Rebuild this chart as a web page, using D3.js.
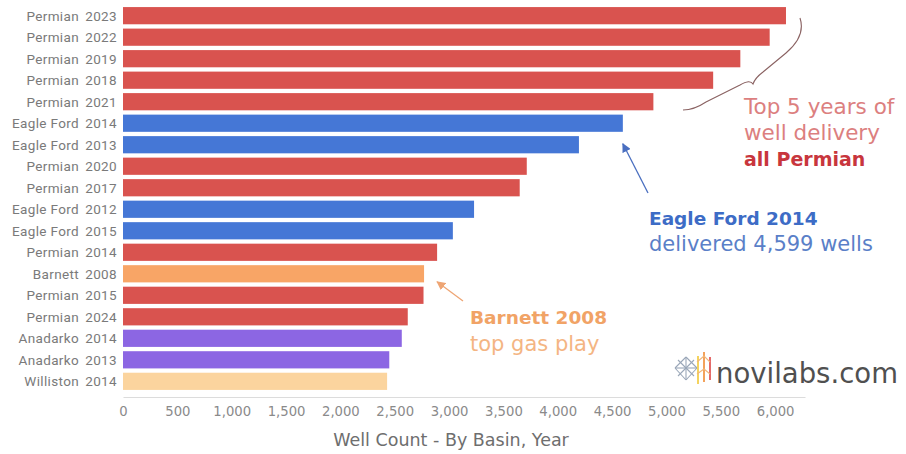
<!DOCTYPE html>
<html>
<head>
<meta charset="utf-8">
<script src="https://cdn.jsdelivr.net/npm/d3@7"></script>
<style>
  html, body { margin: 0; padding: 0; background: #fff; }
  svg { display: block; }
</style>
</head>
<body>
<svg id="chart" width="906" height="454"></svg>
<script>
// Well counts by basin and year, sorted by count (largest first)
const basins = ["Permian", "Permian", "Permian", "Permian", "Permian", "Eagle Ford", "Eagle Ford",
  "Permian", "Permian", "Eagle Ford", "Eagle Ford", "Permian", "Barnett", "Permian", "Permian",
  "Anadarko", "Anadarko", "Williston"];
const years = ["2023", "2022", "2019", "2018", "2021", "2014", "2013", "2020", "2017", "2012", "2015",
  "2014", "2008", "2015", "2024", "2014", "2013", "2014"];
const wellCounts = [6100, 5950, 5680, 5430, 4880, 4599, 4195, 3715, 3650, 3230, 3035, 2890, 2770,
  2765, 2620, 2565, 2450, 2430];
const tickValues = [0, 500, 1000, 1500, 2000, 2500, 3000, 3500, 4000, 4500, 5000, 5500, 6000];

const basinColors = {
  "Permian": "#d9534f",
  "Eagle Ford": "#4577d6",
  "Barnett": "#f8a566",
  "Anadarko": "#8c66e3",
  "Williston": "#fbd49e"
};

const rows = basins.map((b, i) => ({ key: b + " " + years[i], basin: b, year: years[i], value: wellCounts[i] }));

const svg = d3.select("#chart");
const fontMain = "'DejaVu Sans', sans-serif";
const fontLabel = "Roboto, 'Open Sans', sans-serif";

const x = d3.scaleLinear().domain([0, 6275]).range([123, 805]);
const y = d3.scaleBand().domain(rows.map(d => d.key)).range([6, 391]).paddingInner(0.2).paddingOuter(0.05);

// bars
svg.append("g").selectAll("rect").data(rows).join("rect")
  .attr("x", x(0))
  .attr("y", d => y(d.key))
  .attr("width", d => x(d.value) - x(0))
  .attr("height", y.bandwidth())
  .attr("fill", d => basinColors[d.basin]);

// two-column row headers: basin | year
const hdr = svg.append("g").attr("font-family", fontLabel).attr("font-size", 13.5)
  .attr("letter-spacing", 0.35).attr("fill", "#7a7a7a");
hdr.selectAll("text.basin").data(rows).join("text")
  .attr("class", "basin")
  .attr("x", 79)
  .attr("y", d => y(d.key) + y.bandwidth() / 2)
  .attr("dy", "0.36em")
  .attr("text-anchor", "end")
  .text(d => d.basin);
hdr.selectAll("text.year").data(rows).join("text")
  .attr("class", "year")
  .attr("x", 117)
  .attr("y", d => y(d.key) + y.bandwidth() / 2)
  .attr("dy", "0.36em")
  .attr("text-anchor", "end")
  .text(d => d.year);

// x axis
const axis = svg.append("g").attr("transform", "translate(0,397)")
  .call(d3.axisBottom(x).tickValues(tickValues).tickSize(0).tickPadding(10).tickFormat(d3.format(",")));
axis.select(".domain").attr("stroke", "#dcdcdc").attr("stroke-width", 1.2);
axis.selectAll("text").attr("font-family", fontMain).attr("font-size", 13.2).attr("fill", "#8a8a8a");

svg.append("text")
  .attr("x", 451).attr("y", 446)
  .attr("text-anchor", "middle")
  .attr("font-family", fontMain).attr("font-size", 17.5).attr("fill", "#6e6e6e")
  .text("Well Count - By Basin, Year");

// annotations
const defs = svg.append("defs");
function arrowMarker(id, color) {
  defs.append("marker")
    .attr("id", id).attr("viewBox", "0 0 10 10").attr("refX", 9).attr("refY", 5)
    .attr("markerWidth", 9).attr("markerHeight", 9).attr("markerUnits", "userSpaceOnUse")
    .attr("orient", "auto")
    .append("path").attr("d", "M0,0 L10,5 L0,10 Z").attr("fill", color);
}
arrowMarker("arrowBlue", "#4a6fc0");
arrowMarker("arrowOrange", "#eea574");

// brace grouping the top five Permian bars
svg.append("path")
  .attr("d", "M800,18 Q806,36 786,53 L763,72 Q755,78 753,84 Q750,79 740,85 L706,102 Q694,110 683,110")
  .attr("fill", "none").attr("stroke", "#8a6262").attr("stroke-width", 1.1);

const note = svg.append("g").attr("font-family", fontMain);
note.append("text").attr("x", 744).attr("y", 114).attr("font-size", 21.5).attr("fill", "#dc7f7f").text("Top 5 years of");
note.append("text").attr("x", 744).attr("y", 140).attr("font-size", 21.5).attr("fill", "#dc7f7f").text("well delivery");
note.append("text").attr("x", 744).attr("y", 166).attr("font-size", 19).attr("font-weight", 700).attr("fill", "#c8363d").text("all Permian");

const ef = rows[5];
svg.append("line")
  .attr("x1", 648).attr("y1", 193)
  .attr("x2", x(ef.value)).attr("y2", y(ef.key) + y.bandwidth() + 12)
  .attr("stroke", "#4a6fc0").attr("stroke-width", 1.3).attr("marker-end", "url(#arrowBlue)");
note.append("text").attr("x", 649).attr("y", 225).attr("font-size", 18.5).attr("font-weight", 700).attr("fill", "#3d6cc6").text("Eagle Ford 2014");
note.append("text").attr("x", 649).attr("y", 251).attr("font-size", 21).attr("fill", "#5a7fc8").text("delivered " + d3.format(",")(ef.value) + " wells");

const bn = rows[12];
svg.append("line")
  .attr("x1", 463).attr("y1", 301)
  .attr("x2", x(bn.value) + 13).attr("y2", y(bn.key) + y.bandwidth() / 2 + 8)
  .attr("stroke", "#eea574").attr("stroke-width", 1.3).attr("marker-end", "url(#arrowOrange)");
note.append("text").attr("x", 470).attr("y", 324).attr("font-size", 18.5).attr("font-weight", 700).attr("fill", "#f1a366").text("Barnett 2008");
note.append("text").attr("x", 470).attr("y", 351).attr("font-size", 21).attr("fill", "#f4b583").text("top gas play");

// novilabs logo mark
const logo = svg.append("g").attr("fill", "none").attr("stroke-width", 1.1);
const lat = [[675, 368, 686, 357], [686, 357, 697, 368], [697, 368, 686, 380], [686, 380, 675, 368],
  [675, 368, 697, 368], [686, 357, 686, 380], [678, 360, 694, 376], [694, 360, 678, 376]];
logo.selectAll("line.l").data(lat).join("line").attr("class", "l")
  .attr("x1", d => d[0]).attr("y1", d => d[1]).attr("x2", d => d[2]).attr("y2", d => d[3])
  .attr("stroke", "#9aa7b8");
const cols = [[698, 356, 384, "#f4d35e"], [704, 352, 382, "#f3a25b"], [710, 357, 380, "#e46a6a"]];
logo.selectAll("line.c").data(cols).join("line").attr("class", "c")
  .attr("x1", d => d[0]).attr("y1", d => d[1]).attr("x2", d => d[0]).attr("y2", d => d[2])
  .attr("stroke", d => d[3]).attr("stroke-width", 2);
logo.append("path").attr("d", "M697,362 L704,356 L710,362 M697,374 L704,369 L710,374")
  .attr("stroke", "#f1b77a");

svg.append("text").attr("x", 716).attr("y", 383)
  .attr("font-family", fontMain).attr("font-size", 27.5).attr("fill", "#505050")
  .text("novilabs.com");
</script>
</body>
</html>
